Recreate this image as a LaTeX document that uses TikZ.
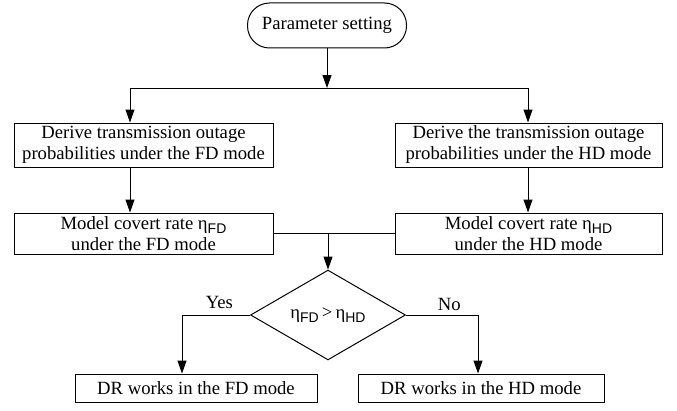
\documentclass[tikz,border=0pt]{standalone}
\usepackage{fontspec}
\setmainfont{Liberation Serif}
\newfontfamily\subfont{Liberation Sans}
\usetikzlibrary{positioning,shapes.geometric,arrows.meta}
\newcommand{\etasub}[1]{η\raisebox{-3pt}{\fontsize{10.5}{12}\subfont #1}}

\begin{document}
\begin{tikzpicture}[x=0.75pt, y=-0.75pt, line width=0.75pt,
    every node/.style={font=\fontsize{14}{15.75}\selectfont, inner sep=0pt},
    box/.style={draw, rectangle, align=center},
    arr/.style={-{Triangle[length=9.75pt,width=6.75pt]}}]
                \useasboundingbox (0,0) rectangle (677,410);

                \node[draw, rounded corners=16.5pt, minimum width=119.25pt, minimum height=33.75pt] (start) at (327,25.5) {Parameter setting};
                \node[box, minimum width=194.25pt, minimum height=33pt] (fdder) at (143.5,145) {Derive transmission outage\\probabilities under the FD mode};
                \node[box, minimum width=200.25pt, minimum height=33pt] (hdder) at (528.5,145) {Derive the transmission outage\\probabilities under the HD mode};
                \node[box, minimum width=194.25pt, minimum height=30.75pt] (fdrate) at (143.5,233.5) {Model covert rate \etasub{FD}\\under the FD mode};
                \node[box, minimum width=200.25pt, minimum height=30.75pt] (hdrate) at (528.5,233.5) {Model covert rate \etasub{HD}\\under the HD mode};
                \node[draw, diamond, minimum width=116.25pt, minimum height=49.5pt] (cmp) at (328,315) {\etasub{FD}\,>\,\etasub{HD}};
                \node[box, minimum width=181.5pt, minimum height=21pt] (fdwork) at (196,388) {DR works in the FD mode};
                \node[box, minimum width=184.5pt, minimum height=21pt] (hdwork) at (481,388) {DR works in the HD mode};

                \coordinate (split) at (327,88);
                \coordinate (tl) at (130,88);
                \coordinate (tr) at (528,88);
                \coordinate (merge) at (328,233.5);
                \coordinate (yesc) at (182,315);
                \coordinate (noc) at (478,315);

                \draw[arr] (start) -- (split);
                \draw (tl) -- (tr);
                \draw[arr] (tl) -- (tl |- fdder.north);
                \draw[arr] (tr) -- (tr |- hdder.north);
                \draw[arr] (fdder.south -| tl) -- (fdrate.north -| tl);
                \draw[arr] (hdder.south -| tr) -- (hdrate.north -| tr);
                \draw (fdrate) -- (hdrate);
                \draw[arr] (merge) -- (cmp);
                \draw[arr] (cmp.west) -- node[above=4pt, pos=0.45] {Yes} (yesc) -- (yesc |- fdwork.north);
                \draw[arr] (cmp.east) -- node[above=3pt, pos=0.6] {No} (noc) -- (noc |- hdwork.north);
            \end{tikzpicture}
\end{document}
